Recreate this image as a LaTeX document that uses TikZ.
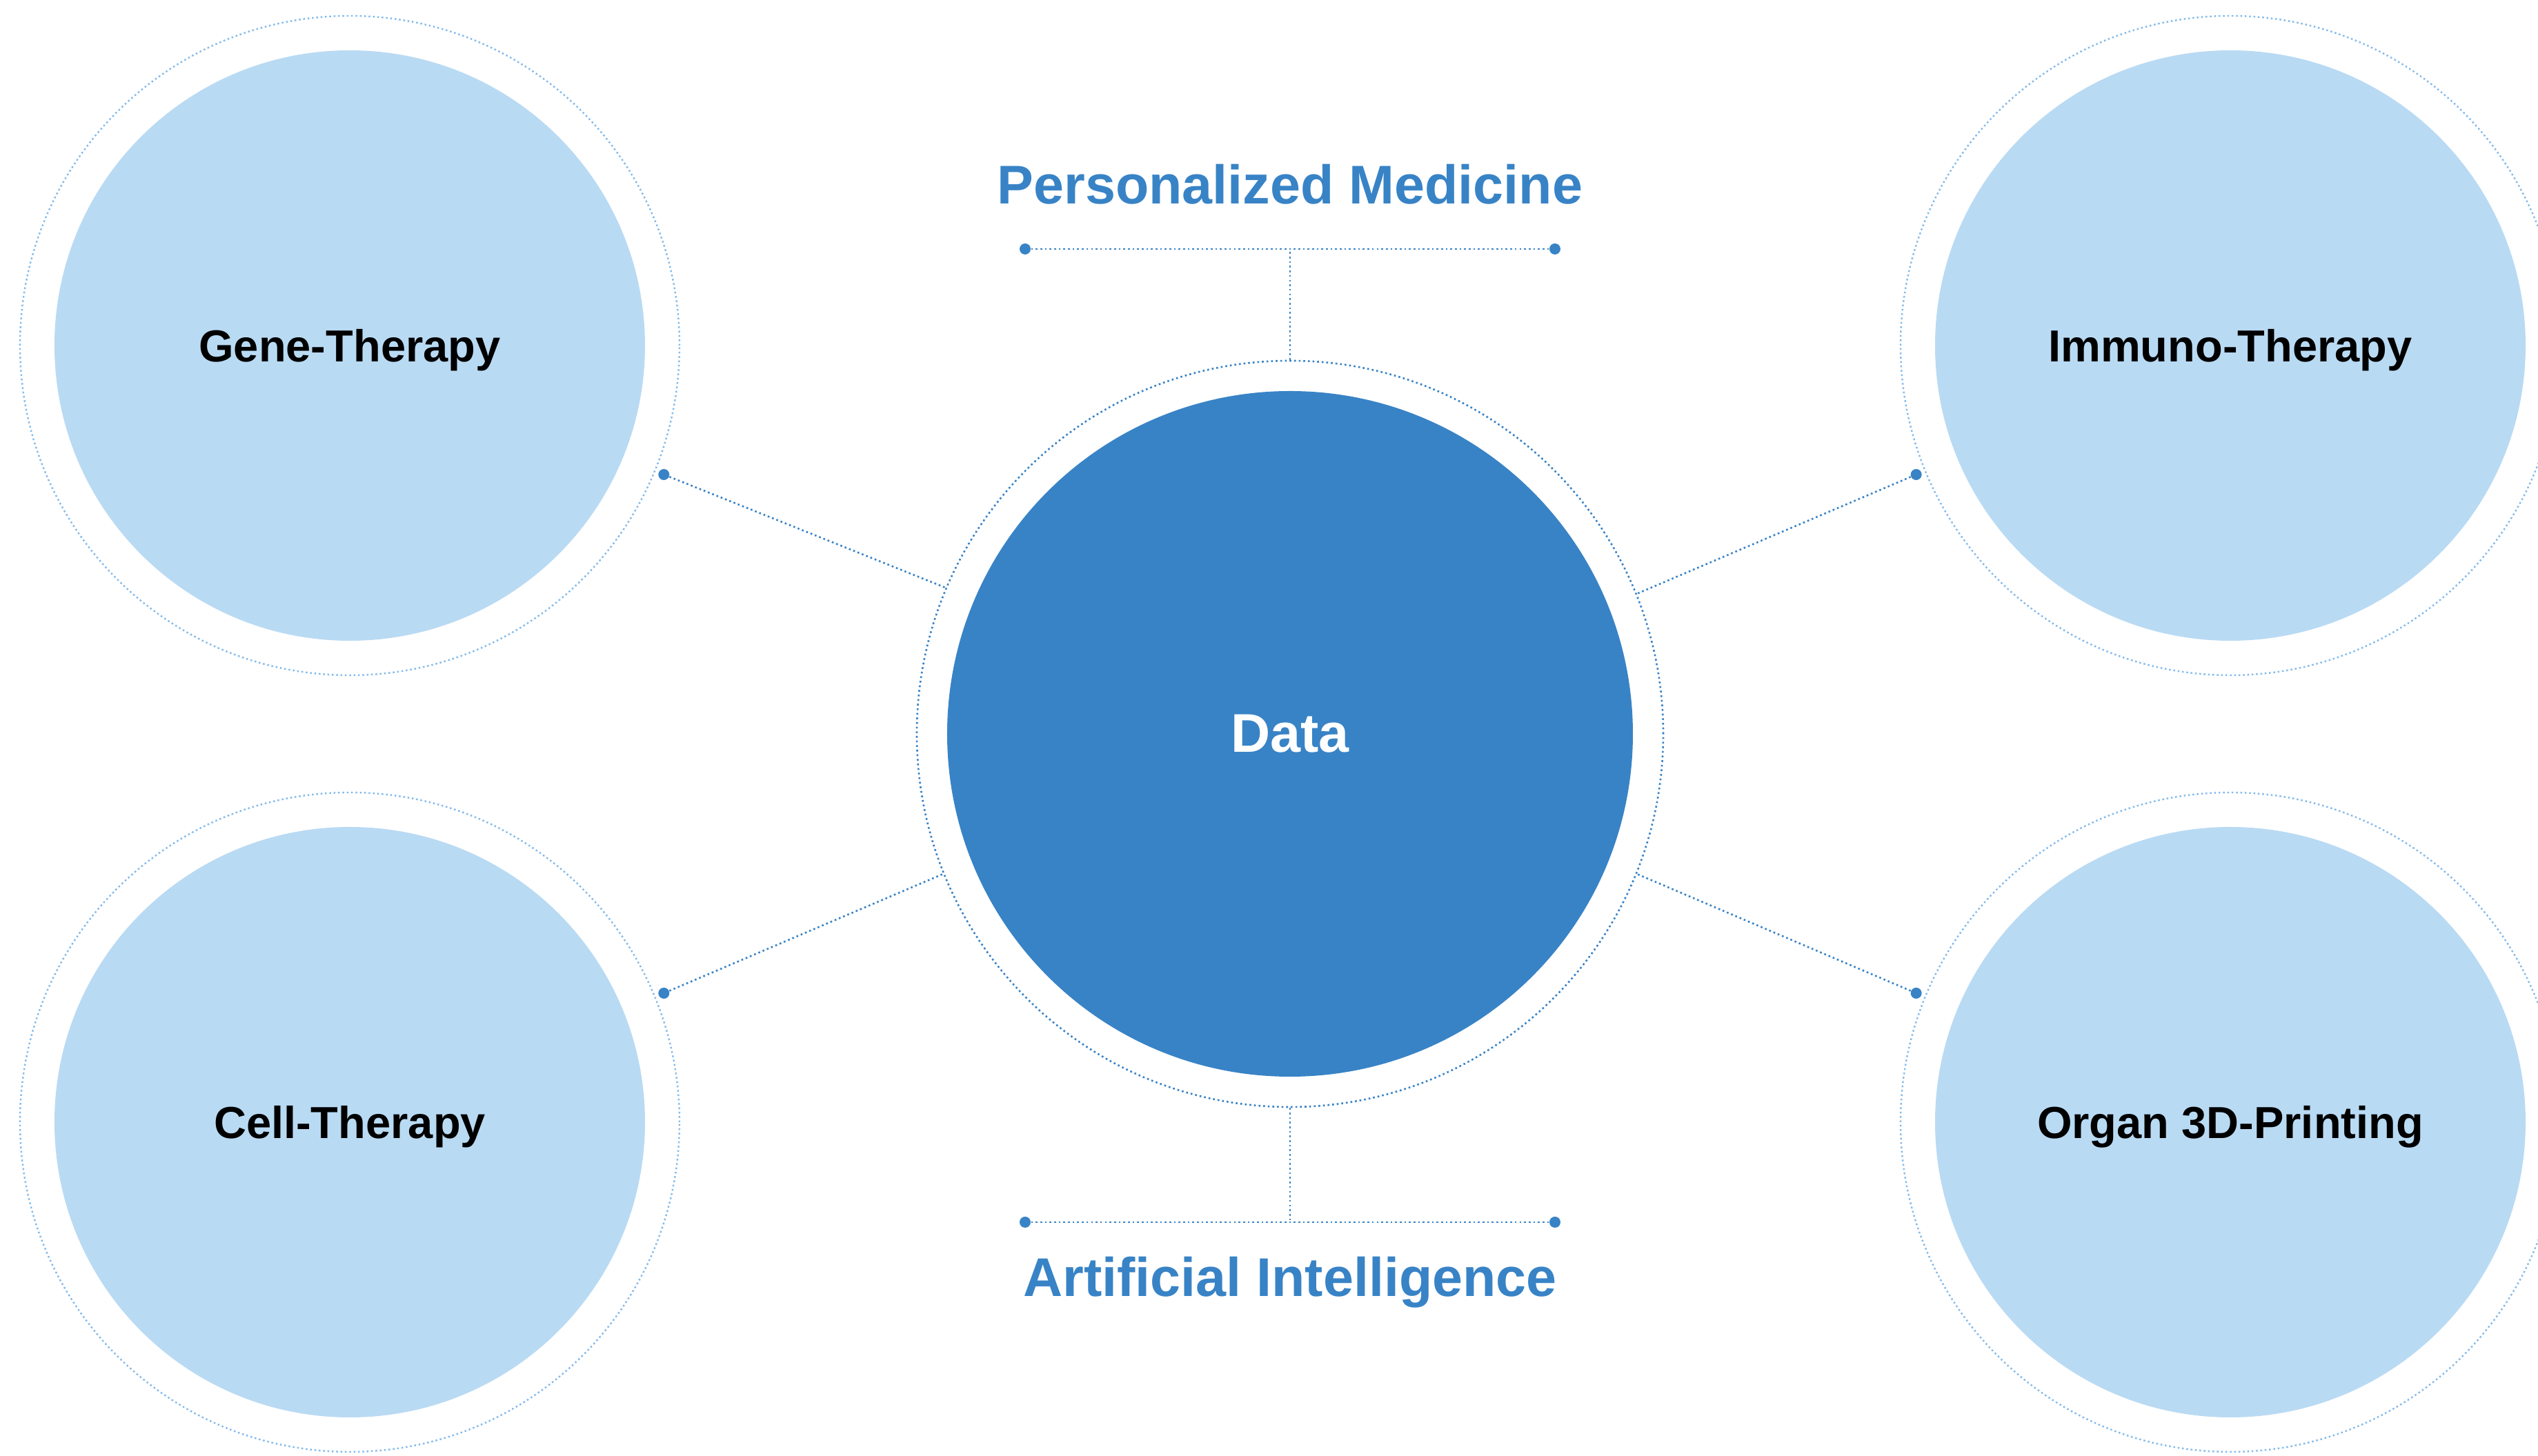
\documentclass[tikz,border=0pt]{standalone}
\usepackage{fontspec}
\setmainfont{Liberation Sans}
\definecolor{databl}{RGB}{56,131,198}
\definecolor{topicbl}{RGB}{185,218,243}
\definecolor{ringbl}{RGB}{130,186,234}

\begin{document}
\begin{tikzpicture}[
  dotline/.style={draw=databl,line width=0.75pt,dash pattern=on 0.75pt off 1.15pt},
  topic/.style={circle,fill=topicbl,minimum size=8.56cm,inner sep=0pt,text depth=0pt,font=\bfseries\fontsize{18.5}{22}\selectfont},
  topicring/.style={circle,draw=ringbl,line width=0.7pt,dash pattern=on 0.7pt off 1.1pt,minimum size=9.56cm,inner sep=0pt},
  enddot/.style={circle,fill=databl,minimum size=0.16cm,inner sep=0pt},
  heading/.style={text=databl,anchor=base,font=\bfseries\fontsize{22.5}{27}\selectfont}]
\useasboundingbox (-18.70,-10.47) rectangle (18.09,10.64);

\node[circle,fill=databl,minimum size=9.94cm,inner sep=0pt,text=white,font=\bfseries\fontsize{22.5}{27}\selectfont] (data) at (0,0) {Data};
\node[circle,dotline,minimum size=10.82cm,inner sep=0pt] (dataring) at (0,0) {};

\node[topicring] (genering) at (-13.63,5.63) {};
\node[topic] (gene) at (-13.63,5.63) {Gene-Therapy};
\node[topicring] (cellring) at (-13.63,-5.63) {};
\node[topic] (cell) at (-13.63,-5.63) {Cell-Therapy};
\node[topicring] (immunoring) at (13.63,5.63) {};
\node[topic] (immuno) at (13.63,5.63) {Immuno-Therapy};
\node[topicring] (organring) at (13.63,-5.63) {};
\node[topic] (organ) at (13.63,-5.63) {Organ 3D-Printing};

\node[enddot] (genedot) at (157.5:9.825) {};
\node[enddot] (celldot) at (202.5:9.825) {};
\node[enddot] (immunodot) at (22.5:9.825) {};
\node[enddot] (organdot) at (-22.5:9.825) {};
\draw[dotline] (genedot) -- (dataring.157.5);
\draw[dotline] (celldot) -- (dataring.202.5);
\draw[dotline] (immunodot) -- (dataring.22.5);
\draw[dotline] (organdot) -- (dataring.-22.5);

\node[enddot] (pmleft) at (-3.84,7.03) {};
\node[enddot] (pmright) at (3.84,7.03) {};
\coordinate (pmjoin) at (0,7.03);
\draw[dotline] (pmleft) -- (pmright);
\draw[dotline] (dataring.north) -- (pmjoin);
\node[heading] (pm) at (0,7.685) {Personalized Medicine};

\node[enddot] (aileft) at (-3.84,-7.08) {};
\node[enddot] (airight) at (3.84,-7.08) {};
\coordinate (aijoin) at (0,-7.08);
\draw[dotline] (aileft) -- (airight);
\draw[dotline] (dataring.south) -- (aijoin);
\node[heading] (ai) at (0,-8.16) {Artificial Intelligence};

\end{tikzpicture}
\end{document}
